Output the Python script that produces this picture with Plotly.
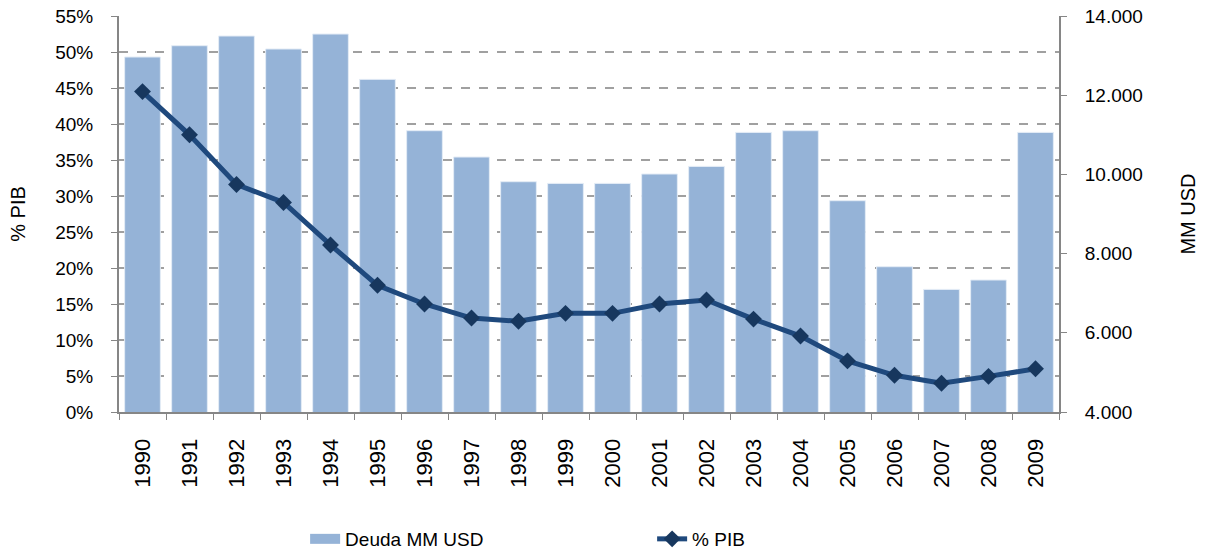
import plotly.graph_objects as go

years = ["1990", "1991", "1992", "1993", "1994", "1995", "1996", "1997", "1998", "1999",
         "2000", "2001", "2002", "2003", "2004", "2005", "2006", "2007", "2008", "2009"]
deuda_mm_usd = [12965, 13250, 13495, 13167, 13545, 12400, 11104, 10439, 9816, 9773,
                9773, 10010, 10202, 11061, 11104, 9336, 7669, 7096, 7333, 11061]
pct_pib = [44.5, 38.5, 31.6, 29.1, 23.2, 17.6, 15.0, 13.05, 12.6, 13.7,
           13.7, 15.0, 15.55, 12.9, 10.55, 7.1, 5.1, 4.0, 4.95, 6.0]
right_tickvals = [4000, 6000, 8000, 10000, 12000, 14000]
right_ticktext = ["4.000", "6.000", "8.000", "10.000", "12.000", "14.000"]
left_tickvals = [0, 5, 10, 15, 20, 25, 30, 35, 40, 45, 50, 55]
left_ticktext = ["0%", "5%", "10%", "15%", "20%", "25%", "30%", "35%", "40%", "45%", "50%", "55%"]

FONT = "Liberation Sans, Arial, sans-serif"
AXC = "#868686"
BAR_C = "#95B3D7"

fig = go.Figure()
fig.add_trace(go.Bar(
    x=years, y=deuda_mm_usd, name="Deuda MM USD", yaxis="y",
    marker=dict(color=BAR_C, line=dict(color="#E4ECF6", width=1)),
    showlegend=False, legendgroup="deuda",
))
# legend entry for the bars (wide swatch like the original)
fig.add_trace(go.Scatter(
    x=[years[0]], y=[None], name="Deuda MM USD", yaxis="y", mode="lines",
    line=dict(color=BAR_C, width=16), legendgroup="deuda", hoverinfo="skip",
))
fig.add_trace(go.Scatter(
    x=years, y=pct_pib, name="% PIB", yaxis="y2", mode="lines+markers",
    line=dict(color="#1F497D", width=5),
    marker=dict(symbol="diamond", size=13, color="#17375E"),
))

fig.update_layout(
    width=1206, height=556,
    margin=dict(l=119, r=147, t=16, b=144, autoexpand=False),
    paper_bgcolor="white", plot_bgcolor="white",
    font=dict(family=FONT, size=19, color="black"),
    bargap=0.24,
    showlegend=True,
    legend=dict(orientation="h", x=0.198, xanchor="left", y=-0.3207, yanchor="middle",
                entrywidth=302, entrywidthmode="pixels",
                font=dict(family=FONT, size=19), traceorder="normal"),
    xaxis=dict(type="category", range=[-0.5, 19.5], tickangle=-90, ticks="outside",
               tickson="boundaries", ticklen=6, tickcolor=AXC, showline=True,
               linecolor=AXC, linewidth=2, showgrid=False, ticklabelstandoff=16,
               tickfont=dict(size=22)),
    yaxis=dict(side="right", range=[4000, 14000], tickvals=right_tickvals,
               ticktext=right_ticktext, showgrid=False, zeroline=False,
               showline=True, linecolor=AXC, linewidth=2, ticks="outside",
               ticklen=6, tickcolor=AXC, ticklabelstandoff=14,
               tickfont=dict(size=19),
               title=dict(text="MM USD", standoff=39, font=dict(size=20))),
    yaxis2=dict(side="left", overlaying="y", range=[0, 55], tickvals=left_tickvals,
                ticktext=left_ticktext, showgrid=True, gridcolor="#A0A0A0",
                griddash="dash", gridwidth=1.5, zeroline=False,
                showline=True, linecolor=AXC, linewidth=2, ticks="outside",
                ticklen=6, tickcolor=AXC, ticklabelstandoff=14,
                tickfont=dict(size=19),
                title=dict(text="% PIB", standoff=24, font=dict(size=20))),
)

fig.write_html("out.html", config={"displayModeBar": False},
               post_script="document.body.style.margin='0px';")
